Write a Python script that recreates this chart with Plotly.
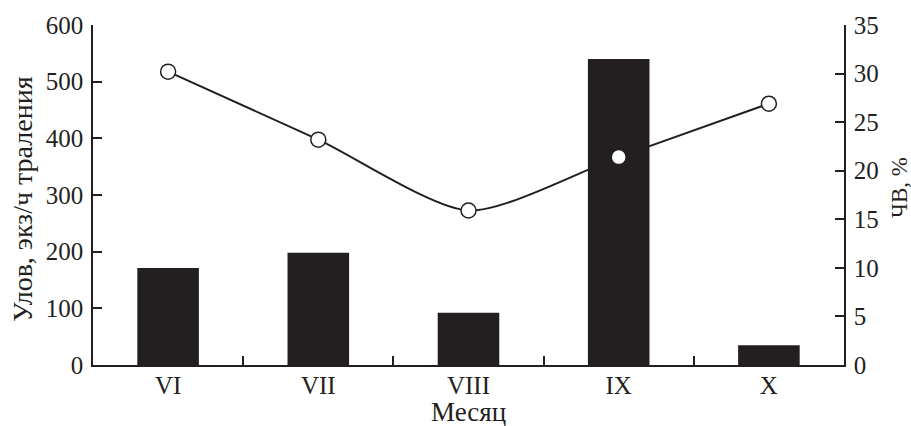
import plotly.graph_objects as go

months = ["VI", "VII", "VIII", "IX", "X"]
catch = [171, 198, 92, 540, 35]
chv = [30.2, 23.2, 15.9, 21.4, 26.9]

font = "Liberation Serif"
dark = "#231f20"
fs = 25

fig = go.Figure()
# line on primary axis (right side) so bars draw over it
fig.add_trace(go.Scatter(x=months, y=chv, mode="lines", yaxis="y",
                         line=dict(color=dark, width=2, shape="spline", smoothing=0.7),
                         showlegend=False, hoverinfo="skip"))
fig.add_trace(go.Bar(x=months, y=catch, yaxis="y2", width=0.41,
                     marker=dict(color=dark, line=dict(width=0)), showlegend=False))
fig.add_trace(go.Scatter(x=months, y=chv, mode="markers", yaxis="y3",
                         marker=dict(size=15, color="white", line=dict(color=dark, width=1.5)),
                         showlegend=False))

axis_common = dict(showgrid=False, zeroline=False, showline=True, linecolor=dark, linewidth=1.5,
                   ticks="inside", ticklen=9, tickwidth=1.5, tickcolor=dark,
                   tickfont=dict(family=font, size=fs, color=dark))

fig.update_layout(
    width=911, height=426,
    margin=dict(l=93, r=67, t=25, b=61, autoexpand=False),
    plot_bgcolor="white", paper_bgcolor="white",
    xaxis=dict(range=[-0.5, 4.5], showgrid=False, zeroline=False, showline=True,
               linecolor=dark, linewidth=1.5, ticks="inside", ticklen=9, tickwidth=1.5,
               tickcolor=dark, tickson="boundaries", ticklabelstandoff=-3,
               tickfont=dict(family=font, size=fs, color=dark)),
    yaxis=dict(range=[0, 35], side="right", tickvals=list(range(0, 36, 5)),
               ticklabelstandoff=3, **axis_common),
    yaxis2=dict(range=[0, 600], side="left", overlaying="y", tickvals=list(range(0, 601, 100)),
                ticklabelstandoff=3, **axis_common),
    yaxis3=dict(range=[0, 35], overlaying="y", visible=False),
    annotations=[
        dict(text="Месяц", xref="paper", yref="paper", x=0.5, y=0, yshift=-47,
             xanchor="center", yanchor="middle", showarrow=False,
             font=dict(family=font, size=27, color=dark)),
        dict(text="Улов, экз/ч траления", xref="paper", yref="paper", x=0, y=0.5, xshift=-71,
             yshift=-4, xanchor="center", yanchor="middle", textangle=-90, showarrow=False,
             font=dict(family=font, size=28, color=dark)),
        dict(text="ЧВ, %", xref="paper", yref="paper", x=1, y=0.5, xshift=55, yshift=7,
             xanchor="center", yanchor="middle", textangle=-90, showarrow=False,
             font=dict(family=font, size=23, color=dark)),
    ],
)

fig.write_html("out.html", config={"displayModeBar": False},
               post_script="document.body.style.margin='0px';document.body.style.overflow='hidden';")
